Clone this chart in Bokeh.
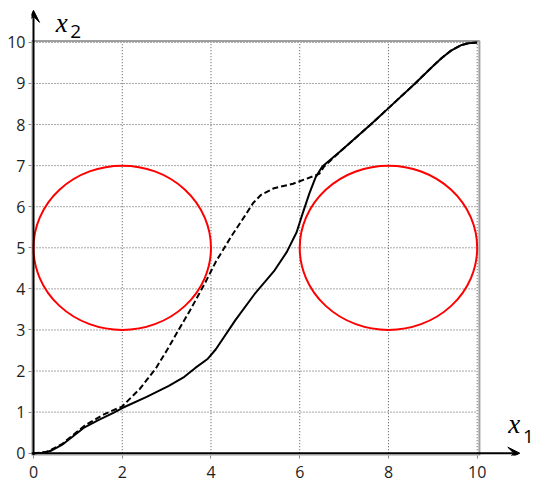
from bokeh.plotting import figure
from bokeh.models import Range1d, FixedTicker, Arrow, VeeHead, Label
from bokeh.embed import file_html
from bokeh.resources import INLINE

# ---- data ----
solid_x = [0, 0.2, 0.4, 0.64, 0.9, 1.15, 1.45, 1.8, 2.0, 2.55, 3.05, 3.4, 3.64, 3.93,
           4.11, 4.55, 4.98, 5.42, 5.71, 5.93, 6.07, 6.22, 6.36, 6.51, 6.93, 7.6, 8.0,
           8.6, 9.0, 9.2, 9.41, 9.63, 9.8, 10.0]
solid_y = [0, 0.01, 0.06, 0.2, 0.42, 0.63, 0.8, 0.98, 1.1, 1.37, 1.64, 1.86, 2.07, 2.3,
           2.53, 3.24, 3.87, 4.43, 4.9, 5.38, 5.85, 6.33, 6.72, 6.98, 7.36, 8.0, 8.4,
           9.0, 9.42, 9.62, 9.8, 9.93, 9.98, 10.0]

dashed_x = [0, 0.3, 0.64, 0.9, 1.15, 1.6, 2.0, 2.4, 2.76, 3.02, 3.27, 3.53, 3.85, 4.11,
            4.47, 4.76, 4.95, 5.13, 5.42, 5.85, 6.15, 6.44, 6.55, 6.93, 7.6, 8.0, 8.6,
            9.0, 9.2, 9.41, 9.63, 9.8, 10.0]
dashed_y = [0, 0.03, 0.22, 0.45, 0.67, 0.95, 1.14, 1.57, 2.07, 2.53, 3.0, 3.48, 4.11, 4.66,
            5.30, 5.77, 6.09, 6.29, 6.45, 6.56, 6.68, 6.80, 6.98, 7.36, 8.0, 8.4, 9.0,
            9.42, 9.62, 9.8, 9.93, 9.98, 10.0]

circle_cx = [2, 8]
circle_cy = [5, 5]
circle_d = [4, 4]

x_ticks = [0, 2, 4, 6, 8, 10]
y_ticks = [0, 1, 2, 3, 4, 5, 6, 7, 8, 9, 10]
x_grid = [2, 4, 6, 8, 10]
y_grid = [1, 2, 3, 4, 5, 6, 7, 8, 9, 10]
X_LO, X_HI = 0, 10
Y_LO, Y_HI = 0, 10

# ---- layout ----
PX_X = 44.37
PX_Y = 41.08
W, H = 534, 488
ML, MB = 31, 33
fw, fh = W - ML, H - MB
x0 = -2.0 / PX_X
y0 = -2.3 / PX_Y

p = figure(width=W, height=H, output_backend="svg", toolbar_location=None,
           x_range=Range1d(x0, x0 + fw / PX_X), y_range=Range1d(y0, y0 + fh / PX_Y),
           min_border_left=ML, min_border_right=0, min_border_top=0, min_border_bottom=MB)
p.outline_line_color = None
p.grid.visible = False
p.background_fill_color = "white"
p.border_fill_color = "white"

for ax, ticks in ((p.xaxis, x_ticks), (p.yaxis, y_ticks)):
    ax.ticker = FixedTicker(ticks=ticks)
    ax.axis_line_color = None
    ax.major_tick_in = 0
    ax.major_tick_out = 3
    ax.major_tick_line_color = "#8a8a8a"
    ax.minor_tick_line_color = None
    ax.major_label_text_font = "Open Sans"
    ax.major_label_text_font_size = "16px"
    ax.major_label_text_color = "#1e1e1e"
p.xaxis.major_label_standoff = 7
p.yaxis.major_label_standoff = 3

# frame box
p.quad(left=[X_LO - 0.045], right=[X_HI + 0.05], bottom=[Y_LO - 0.056], top=[Y_HI + 0.037],
       fill_color=None, line_color="#a0a0a0", line_width=2)

# dotted grid
p.segment(x0=x_grid, y0=[Y_LO] * len(x_grid), x1=x_grid, y1=[Y_HI] * len(x_grid),
          line_color="#505050", line_width=1, line_dash="1 2")
p.segment(x0=[X_LO] * len(y_grid), y0=y_grid, x1=[X_HI] * len(y_grid), y1=y_grid,
          line_color="#505050", line_width=1, line_dash="1 2")

# circles
p.ellipse(x=circle_cx, y=circle_cy, width=circle_d, height=circle_d,
          fill_color=None, line_color="#ff0000", line_width=2)

# curves
p.line(dashed_x, dashed_y, line_color="black", line_width=2, line_dash="6 3")
p.line(solid_x, solid_y, line_color="black", line_width=2)

# axes with arrows
p.add_layout(Arrow(end=VeeHead(size=12, fill_color="black", line_color="black"),
                   x_start=X_LO - 0.05, y_start=0, x_end=10.96, y_end=0,
                   line_color="black", line_width=2))
p.add_layout(Arrow(end=VeeHead(size=12, fill_color="black", line_color="black"),
                   x_start=0, y_start=Y_LO - 0.05, x_end=0, y_end=10.78,
                   line_color="black", line_width=2))

# axis titles
p.add_layout(Label(x=0.50, y=10.48, text="x", text_font="Liberation Serif",
                   text_font_style="italic", text_font_size="27px", text_color="black",
                   text_baseline="alphabetic"))
p.add_layout(Label(x=0.83, y=10.27, text="2", text_font="Open Sans",
                   text_font_size="19px", text_color="black", text_baseline="alphabetic"))
p.add_layout(Label(x=10.70, y=0.70, text="x", text_font="Liberation Serif",
                   text_font_style="italic", text_font_size="27px", text_color="black",
                   text_baseline="alphabetic"))
p.add_layout(Label(x=11.03, y=0.41, text="1", text_font="Open Sans",
                   text_font_size="19px", text_color="black", text_baseline="alphabetic"))

open("out.html", "w").write(file_html(p, INLINE))
